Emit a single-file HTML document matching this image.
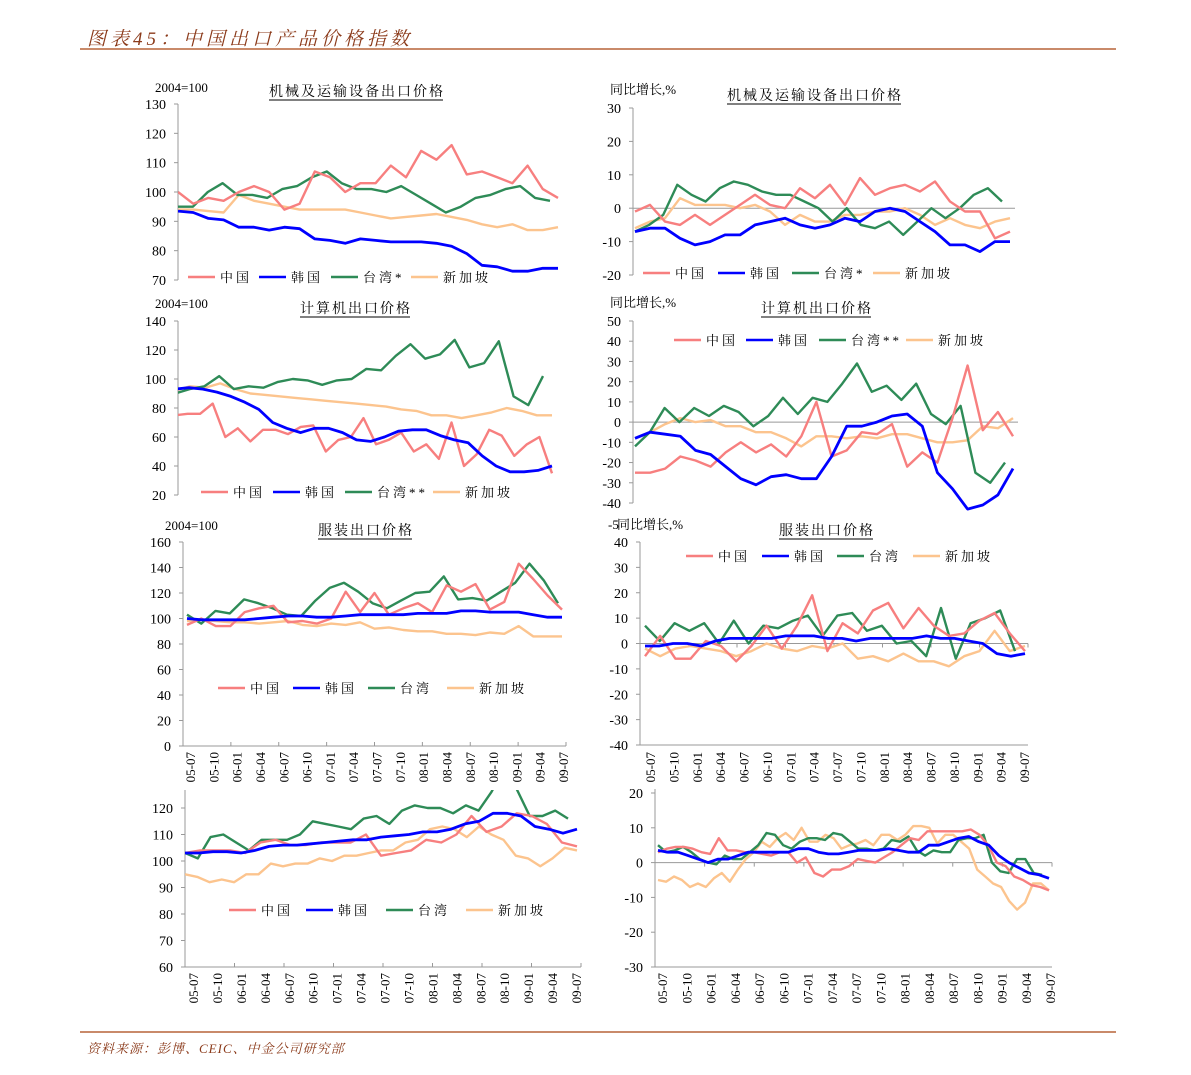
<!DOCTYPE html>
<html><head><meta charset="utf-8">
<style>
html,body{margin:0;padding:0;background:#fff;}
body{width:1191px;height:1075px;position:relative;overflow:hidden;font-family:"Liberation Serif","Noto Serif CJK SC",serif;}
.hdr{position:absolute;left:87px;top:24px;font-size:19px;font-style:italic;color:#8b3a1a;letter-spacing:4px;font-family:"Liberation Serif","Noto Serif CJK SC",serif;}
.rule{position:absolute;left:80px;width:1036px;height:2px;background:#c98a6a;}
.src{position:absolute;left:87px;top:1038px;font-size:13px;font-style:italic;color:#8b3a1a;letter-spacing:1px;font-family:"Liberation Serif","Noto Serif CJK SC",serif;}
svg{position:absolute;left:0;top:0;}
</style></head>
<body>
<div class="hdr">图表45：中国出口产品价格指数</div>
<div class="rule" style="top:48px"></div>
<div class="rule" style="top:1031px"></div>
<div class="src">资料来源：彭博、CEIC、中金公司研究部</div>
<svg id="chart" width="1191" height="1075"></svg>
<script>
// ---- data ----
const seriesNames = ["中国","韩国","台湾","新加坡"];
const xTickLabels = ["05-07","05-10","06-01","06-04","06-07","06-10","07-01","07-04","07-07","07-10","08-01","08-04","08-07","08-10","09-01","09-04","09-07"];

const p1China = [100,96,98,97,100,102,100,94,96,107,105,100,103,103,109,105,114,111,116,106,107,105,103,109,101,98];
const p1Korea = [93.5,93,91,90.5,88,88,87,88,87.5,84,83.5,82.5,84,83.5,83,83,83,82.5,81.5,79,75,74.5,73,73,74,74];
const p1Taiwan = [95,95,100,103,99,99,98,101,102,105,107,103,101,101,100,102,99,96,93,95,98,99,101,102,98,97];
const p1Sing = [94,94,93.5,93,99,97,96,95,94,94,94,94,93,92,91,91.5,92,92.5,91.5,90.5,89,88,89,87,87,88];

const p2China = [-1,1,-4,-5,-2,-5,-2,1,4,1,0,6,3,7,1,9,4,6,7,5,8,2,-1,-1,-9,-7];
const p2Korea = [-7,-6,-6,-9,-11,-10,-8,-8,-5,-4,-3,-5,-6,-5,-3,-4,-1,0,-1,-4,-7,-11,-11,-13,-10,-10];
const p2Taiwan = [-7,-5,-2,7,4,2,6,8,7,5,4,4,2,0,-4,0,-5,-6,-4,-8,-4,0,-3,0,4,6,2];
const p2Sing = [-6,-4,-3,3,1,1,1,0,1,-1,-5,-2,-4,-4,-2,-2,-1,-1,0,-2,-5,-3,-5,-6,-4,-3];

const p3China = [75,76,76,83,60,66,57,65,65,62,67,68,50,58,60,73,55,58,63,50,55,45,70,40,48,65,61,47,55,60,35];
const p3Korea = [93,94,93,91,88,84,79,70,66,63,66,66,63,58,57,60,64,65,65,61,58,56,47,40,36,36,37,40];
const p3Taiwan = [90,93,95,102,93,95,94,98,100,99,96,99,100,107,106,116,124,114,117,127,108,111,126,88,82,102];
const p3Sing = [92,95,94,97,93,90,89,88,87,86,85,84,83,82,81,79,78,75,75,73,75,77,80,78,75,75];

const p4China = [-25,-25,-23,-17,-19,-22,-15,-10,-15,-11,-17,-7,10,-17,-14,-5,-6,-1,-22,-15,-20,2,28,-4,5,-7];
const p4Korea = [-8,-5,-6,-7,-14,-16,-22,-28,-31,-27,-26,-28,-28,-17,-2,-2,0,3,4,-2,-25,-33,-43,-41,-36,-23];
const p4Taiwan = [-12,-5,7,0,7,3,8,5,-2,3,12,4,12,10,19,29,15,18,11,19,4,-1,8,-25,-30,-20];
const p4Sing = [-8,-5,-1,2,0,1,-2,-2,-5,-5,-8,-12,-7,-7,-8,-7,-8,-6,-6,-8,-10,-10,-9,-2,-3,2];

const p5China = [95,100,94,94,105,108,110,97,98,96,100,121,105,120,103,108,112,105,126,121,127,107,113,143,131,118,107];
const p5Korea = [100,99,99,99,99,100,101,102,102,101,101,102,103,103,103,103,104,104,104,106,106,105,105,105,103,101,101];
const p5Taiwan = [103,96,106,104,115,112,108,103,102,114,124,128,121,112,108,114,120,121,133,115,116,114,121,128,143,130,112];
const p5Sing = [98,99,98,97,97,96,97,98,95,94,96,95,97,92,93,91,90,90,88,88,87,89,88,94,86,86,86];

const p6China = [-5,3,-6,-6,1,-1,-7,-1,7,-2,7,19,-3,8,4,13,16,6,14,7,3,4,9,12,4,-3];
const p6Korea = [-1,-1,0,0,-1,1,2,2,2,2,3,3,3,2,2,1,2,2,2,2,3,2,2,1,0,-4,-5,-4];
const p6Taiwan = [7,1,8,5,8,0,9,0,7,6,9,11,3,11,12,5,7,0,1,-5,14,-6,8,10,13,-3];
const p6Sing = [-2,-5,-2,-1,-2,-3,-5,-3,0,-2,-3,-1,-2,0,-6,-5,-7,-4,-7,-7,-9,-5,-3,5,-3,-1];

const p7China = [103,104,104,104,103,107,108,106,106,107,107,107,110,102,103,104,108,107,110,117,111,113,118,117,114,107,105.5];
const p7Korea = [103,103,103.5,103.5,103,104,105.5,106,106,106.5,107,107.5,108,108,109,109.5,110,111,111,112,114,115,118,118,117,113,112,110.5,112];
const p7Taiwan = [103,101,109,110,107,104,108,108,108,110,115,114,113,112,116,117,114,119,121,120,120,118,121,119,126,135,127,117,117,119,116];
const p7Sing = [95,94,92,93,92,95,95,99,98,99,99,101,100,102,102,103,104,104,107,108,112,113,112,109,113,110,108,102,101,98,101,105,104];

const p8China = [3,4,4.5,4.5,4,3,2.5,7,3.5,3.5,3,3,2.5,2,3,3,0,1.5,-3,-4,-2,-2,-1,1,0.5,0,1.5,3,5,7,6.5,9,9,9,9,9,9.5,8,5,0,-1,-4,-5,-6.5,-7,-8];
const p8Korea = [3.5,3,3,2,1,0,1,1,2,3,3,3,3,3,4,4,3,2.5,2.5,3,3.5,3.5,3.5,4,3.5,3,3,5,5,6,7,7.5,6,5,2,0,-1.5,-3,-3.5,-4.5];
const p8Taiwan = [5,3,3.5,4.5,3,1,0,-0.5,2,1,1,3,5,8.5,8,5,4,6,7,7,6.5,8.5,8,6,4,4,3.5,4,6.5,6,7.5,3.5,2,3.5,3,3,6.5,7,7,8,0,-2.5,-3,1,1,-3,-3.5];
const p8Sing = [-5,-5.5,-4,-5,-7,-6,-7,-4.5,-3,-5.5,-2,1,3,6,4.5,7,8.5,6.5,10,6,6,8,7,4,5,5.5,6.5,5,8,8,6.5,8,10.5,10.5,10,5.5,8,8,6,4,-2,-4,-6,-7,-11,-13.5,-11.5,-6,-6,-8];

// ---- rendering ----
const COLORS = ["#f77f7f","#0000ff","#2e8b57","#fcc48e"];
const NS = "http://www.w3.org/2000/svg";
const svg = document.getElementById("chart");
function mk(tag, attrs, parent){
  const e = document.createElementNS(NS, tag);
  for (const k in attrs) e.setAttribute(k, attrs[k]);
  (parent||svg).appendChild(e);
  return e;
}
const panels = [
 {id:"p1", ax:178, vTop:130, yTop:104, vBot:70, yBot:280, step:10, x0:178, ends:[558,558,550,558], data:[p1China,p1Korea,p1Taiwan,p1Sing],
  zero:false, title:"机械及运输设备出口价格", tx:357, ty:96, unit:"2004=100", ux:155, uy:92, legY:277, legX:[188,259,331,411], tw:"台湾*", clipTop:95},
 {id:"p2", ax:633, vTop:30, yTop:108, vBot:-20, yBot:275, step:10, x0:635, ends:[1010,1010,1002,1010], data:[p2China,p2Korea,p2Taiwan,p2Sing],
  zero:true, zx1:1015, title:"机械及运输设备出口价格", tx:815, ty:100, unit:"同比增长,%", ux:610, uy:94, legY:273, legX:[643,718,792,873], tw:"台湾*", clipTop:100},
 {id:"p3", ax:178, vTop:140, yTop:321, vBot:20, yBot:495, step:20, x0:175, ends:[552,552,543,552], data:[p3China,p3Korea,p3Taiwan,p3Sing],
  zero:false, title:"计算机出口价格", tx:356, ty:313, unit:"2004=100", ux:155, uy:308, legY:492, legX:[201,273,345,433], tw:"台湾**", clipTop:310},
 {id:"p4", ax:633, vTop:50, yTop:321, vBot:-40, yBot:503, step:10, x0:635, ends:[1013,1013,1005,1013], data:[p4China,p4Korea,p4Taiwan,p4Sing],
  zero:true, zx1:1018, title:"计算机出口价格", tx:817, ty:313, unit:"同比增长,%", ux:610, uy:307, legY:340, legX:[674,746,819,906], tw:"台湾**", clipTop:310, clipExtra:12},
 {id:"p5", ax:183, vTop:160, yTop:542, vBot:0, yBot:746, step:20, x0:187, ends:[562,562,558,562], data:[p5China,p5Korea,p5Taiwan,p5Sing],
  zero:false, xaxis:true, labX0:190, labX1:563, labY:752, title:"服装出口价格", tx:366, ty:535, unit:"2004=100", ux:165, uy:530, legY:688, legX:[218,293,368,447], tw:"台湾", clipTop:535},
 {id:"p6", ax:640, vTop:40, yTop:542, vBot:-40, yBot:745, step:10, x0:645, ends:[1025,1025,1015,1025], data:[p6China,p6Korea,p6Taiwan,p6Sing],
  zero:true, zx1:1028, xaxis:true, labX0:650, labX1:1024, labY:752, title:"服装出口价格", tx:827, ty:535, unit:"同比增长,%", ux:617, uy:529, legY:556, legX:[686,762,837,913], tw:"台湾", clipTop:535},
 {id:"p7", ax:185, vTop:120, yTop:808, vBot:60, yBot:967, step:10, x0:185, ends:[577,577,568,577], data:[p7China,p7Korea,p7Taiwan,p7Sing],
  zero:false, xaxis:true, labX0:193, labX1:576, labY:973, legY:910, legX:[229,306,386,466], tw:"台湾", clipTop:790, axTop:790},
 {id:"p8", ax:655, vTop:20, yTop:793, vBot:-30, yBot:967, step:10, x0:658, ends:[1049,1049,1042,1049], data:[p8China,p8Korea,p8Taiwan,p8Sing],
  zero:true, zx1:1052, xaxis:true, labX0:662, labX1:1050, labY:973, clipTop:789, axTop:789}
];

panels.forEach(function(p){
  const g = mk("g", {});
  
  
  const yS = v => p.yTop + (p.vTop - v) * (p.yBot - p.yTop) / (p.vTop - p.vBot);
  const axTop = p.axTop !== undefined ? p.axTop : p.yTop;
  const ya = mk("line", {x1:p.ax, y1:axTop, x2:p.ax, y2:p.yBot, stroke:"#999", "stroke-width":1}, g);
  
  
  for (let v = p.vBot; v <= p.vTop + 1e-9; v += p.step) {
    const y = yS(v);
    mk("line", {x1:p.ax-4, y1:y, x2:p.ax, y2:y, stroke:"#999"}, g);
    const t = mk("text", {x:p.ax-12, y:y+5, "text-anchor":"end", "font-size":14, fill:"#000", "font-family":"Liberation Serif, serif"}, g);
    
    
    t.textContent = v;
  }
  const xEnd = p.zx1 || (p.ends[0] + 4);
  if (p.zero) {
    const zl = mk("line", {x1:p.ax, y1:yS(0), x2:xEnd, y2:yS(0), stroke:"#999"}, g);
    
    
  }
  if (p.xaxis) {
    const xa = mk("line", {x1:p.ax, y1:p.yBot, x2:xEnd, y2:p.yBot, stroke:"#999"}, g);
    
    
    const n = xTickLabels.length;
    for (let i = 0; i < n; i++) {
      const x = p.labX0 + i * (p.labX1 - p.labX0) / (n - 1);
      const t = mk("text", {x:0, y:0, transform:"translate(" + (x+5) + "," + p.labY + ") rotate(-90)", "text-anchor":"end", "font-size":13, "font-family":"Liberation Serif, serif"}, g);
      
      
      t.textContent = xTickLabels[i];
    }
    const ty = p.zero ? yS(0) : p.yBot;
    const dir = p.zero ? 4 : -4;
    for (let i = 1; i < 9; i++) {
      const x = p.ax + i * (xEnd - p.ax) / 8;
      mk("line", {x1:x, y1:ty, x2:x, y2:ty+dir, stroke:"#999"}, g);
    }
  }
  const cp = mk("clipPath", {id:"clip-" + p.id}, g);
  mk("rect", {x:p.ax, y:p.clipTop, width:xEnd - p.ax + 10, height:p.yBot - p.clipTop + 2 + (p.clipExtra||0)}, cp);
  const order = [3,2,0,1];
  order.forEach(function(si){
    const arr = p.data[si];
    const x1 = p.ends[si];
    const pts = arr.map((v,i) => (p.x0 + i * (x1 - p.x0) / (arr.length - 1)).toFixed(1) + "," + yS(v).toFixed(1)).join(" ");
    const pl = mk("polyline", {points:pts, fill:"none", stroke:COLORS[si], "stroke-width":si===1?2.8:2.4, "stroke-linejoin":"round", "clip-path":"url(#clip-" + p.id + ")"}, g);
    
    
  });
  if (p.title) {
    const t = mk("text", {x:p.tx, y:p.ty, "text-anchor":"middle", "font-size":14, "letter-spacing":2, "font-family":"Liberation Serif, Noto Serif CJK SC, serif"}, g);
    
    
    t.textContent = p.title;
    const w = p.title.length * 16;
    mk("line", {x1:p.tx - w/2, y1:p.ty+4, x2:p.tx + w/2 - 2, y2:p.ty+4, stroke:"#000", "stroke-width":1}, g);
  }
  if (p.unit) {
    const t = mk("text", {x:p.ux, y:p.uy, "font-size":13, "font-family":"Liberation Serif, Noto Serif CJK SC, serif"}, g);
    
    
    t.textContent = p.unit;
  }
  if (p.legX) {
    const names = [seriesNames[0], seriesNames[1], p.tw, seriesNames[3]];
    for (let i = 0; i < 4; i++) {
      const lg = mk("g", {}, g);
      
      
      mk("line", {x1:p.legX[i], y1:p.legY, x2:p.legX[i]+27, y2:p.legY, stroke:COLORS[i], "stroke-width":2.6}, lg);
      const t = mk("text", {x:p.legX[i]+32, y:p.legY+5, "font-size":13, "letter-spacing":3, "font-family":"Liberation Serif, Noto Serif CJK SC, serif"}, lg);
      t.textContent = names[i];
    }
  }
});
const stray = mk("text", {x:608, y:529, "font-size":13, "font-family":"Liberation Serif, serif"});


stray.textContent = "-5";
</script>
</body></html>
